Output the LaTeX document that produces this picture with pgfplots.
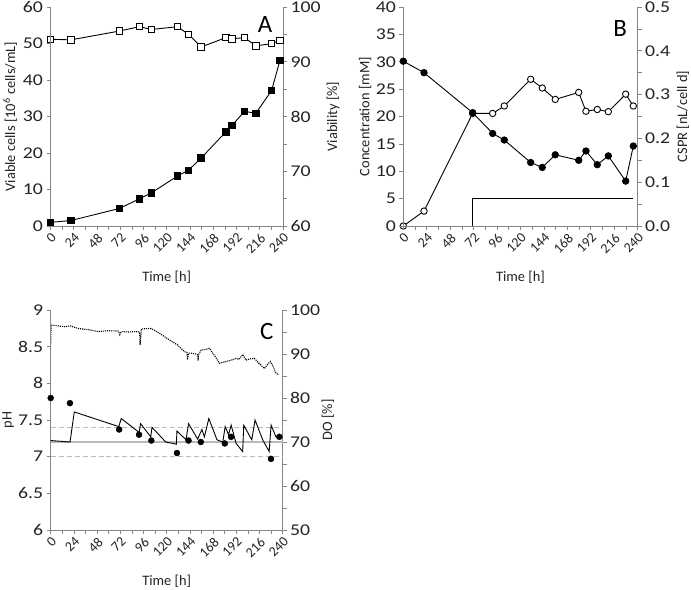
\documentclass[border=0pt]{standalone}
\usepackage{fontspec}
\setmainfont{Carlito}
\newfontfamily\widefont[FakeStretch=1.2]{Carlito}
\usepackage{pgfplots}
\pgfplotsset{compat=1.18}

\definecolor{axgray}{RGB}{134,134,134}
\definecolor{txt}{RGB}{35,35,35}
\definecolor{refgray}{RGB}{185,185,185}

\tikzset{letter/.style={font=\fontsize{25}{25}\selectfont, text=black}}
\newcommand{\labfont}{\fontsize{14.5}{16}\selectfont}

\pgfplotsset{
  panel/.style={
    scale only axis, xmin=0, xmax=240, clip=false,
    axis line style={draw=axgray, line width=0.9pt},
    tick style={draw=axgray, line width=0.7pt},
    major tick length=4bp, minor tick length=4bp,
    tick align=outside,
    /pgf/number format/assume math mode=true,
    yticklabel style={font=\widefont\fontsize{16.5}{17}\selectfont, text=txt},
    xticklabel style={font=\fontsize{14}{15}\selectfont, text=txt},
  },
  leftax/.style={panel,
    axis x line*=bottom, axis y line*=left,
    xtick={0,24,...,240}, minor x tick num=1,
    xticklabel style={rotate=45, anchor=north east, inner sep=1.5pt},
    xlabel={Time [h]},
    every axis x label/.style={at={(axis description cs:0.5,-0.233)}, anchor=center,
      font=\labfont, text=txt},
  },
  rightax/.style={panel,
    axis x line=none, axis y line*=right,
    minor y tick num=1,
  },
  ylab/.style={every axis y label/.style={at={(axis description cs:#1,0.5)},
    anchor=center, rotate=90, font=\labfont, text=txt}},
  dat/.style={black, line width=0.9pt, mark size=3.2bp,
    mark options={solid, line width=0.7pt}},
}

\begin{document}
\begin{tikzpicture}
\useasboundingbox (0,0) rectangle (691bp,590bp);

% ---------------- A ----------------
\begin{axis}[rightax, at={(50.5bp,364bp)}, anchor=south west,
  width=232.5bp, height=219bp,
  ymin=60, ymax=100, ytick={60,70,...,100},
  ylabel={Viability [\%]}, ylab=1.215,
]
\addplot[dat, mark=square*, mark options={fill=white}] coordinates {
  (0,94.1)(21.2,94.0)(71,95.6)(91.6,96.4)(104.3,95.9)(131.1,96.4)(142.5,95.0)
  (155.5,92.7)(181,94.4)(187.5,94.2)(200.3,94.4)(212,92.9)(228.2,93.3)(236.9,93.9)};
\end{axis}
\begin{axis}[leftax, at={(50.5bp,364bp)}, anchor=south west,
  width=232.5bp, height=219bp,
  ymin=0, ymax=60, ytick={0,10,...,60},
  ylabel={Viable cells [10\textsuperscript{6} cells/mL]}, ylab=-0.174,
]
\addplot[dat, mark=square*, mark options={fill=black}] coordinates {
  (0,1.0)(21.2,1.5)(71,4.8)(91.6,7.4)(104.3,9.1)(131.1,13.7)(142.5,15.3)
  (155.5,18.6)(181,25.8)(187.5,27.6)(200.3,31.4)(212,30.9)(228.2,37.1)(236.9,45.4)};
\node[letter] at (rel axis cs:0.923,0.918) {A};
\end{axis}

% ---------------- B ----------------
\begin{axis}[rightax, at={(403.3bp,364bp)}, anchor=south west,
  width=234.4bp, height=219bp,
  ymin=0, ymax=0.5, ytick={0,0.1,...,0.5},
  yticklabel style={/pgf/number format/.cd, fixed, fixed zerofill, precision=1},
  ylabel={CSPR [nL/cell d]}, ylab=1.193,
]
\addplot[dat, mark=*, mark options={fill=white}] coordinates {
  (0,0.0)(21.2,0.034)(71,0.257)(91.5,0.257)(103.4,0.274)(130.4,0.335)(142.3,0.315)
  (155.6,0.289)(179.6,0.305)(187,0.262)(198.6,0.266)(209.9,0.261)(227.7,0.301)(235.5,0.274)};
\end{axis}
\begin{axis}[leftax, at={(403.3bp,364bp)}, anchor=south west,
  width=234.4bp, height=219bp,
  ymin=0, ymax=40, ytick={0,5,...,40},
  ylabel={Concentration [mM]}, ylab=-0.163,
]
\addplot[black, line width=0.9pt] coordinates {(71,0)(71,5)(235.5,5)};
\addplot[dat, mark=*, mark options={fill=black}] coordinates {
  (0,30.1)(21.2,28.0)(71,20.7)(91.5,16.9)(103.4,15.7)(130.4,11.6)(142.3,10.7)
  (155.6,13.0)(179.6,12.0)(187,13.7)(198.6,11.2)(209.9,12.8)(227.7,8.2)(235.5,14.6)};
\node[letter] at (rel axis cs:0.925,0.904) {B};
\end{axis}

% ---------------- C ----------------
\begin{axis}[rightax, at={(50.7bp,60bp)}, anchor=south west,
  width=232bp, height=220bp,
  ymin=50, ymax=100, ytick={50,60,...,100},
  ylabel={DO [\%]}, ylab=1.195,
]
\addplot[black, densely dotted, line width=1.1pt] coordinates {
  (0,92.4)(0.4,96.6)(7,96.4)(14.7,96.2)(20,96.4)(28.5,95.8)(40,95.5)(49,95.1)
  (60,95.3)(70,95.2)(71.5,94.4)(73,95.1)(80,95.0)(87,95.1)(92,95.0)(92.5,92.0)
  (93.8,95.7)(104,95.8)(112.7,94.7)(121.3,93.4)(131.6,92.0)(138,90.6)(141,90.3)
  (141.5,88.7)(142.5,90.2)(145.4,90.2)(150,90.0)(152,89.8)(152.5,88.5)(153,89.9)
  (155.7,90.9)(160,91.0)(164,91.3)(169,89.8)(174.6,87.9)(180,88.2)(186.7,88.6)
  (191.8,89.0)(195,88.8)(198.6,89.9)(202,88.6)(206,88.9)(210.7,89.0)(215,88.0)
  (221,86.7)(225,87.8)(227.2,88.3)(230,87.2)(233,85.6)(236,85.3)};
\end{axis}
\begin{axis}[leftax, at={(50.7bp,60bp)}, anchor=south west,
  width=232bp, height=220bp,
  ymin=6, ymax=9, ytick={6,6.5,...,9},
  ylabel={pH}, ylab=-0.183,
]
\addplot[refgray, line width=1.2pt, dash pattern=on 5pt off 3pt] coordinates {(0,7.4)(240,7.4)};
\addplot[refgray, line width=1.2pt, dash pattern=on 5pt off 3pt] coordinates {(0,7.0)(240,7.0)};
\addplot[refgray, line width=1.4pt] coordinates {(0,7.2)(240,7.2)};
\addplot[black, line width=0.9pt] coordinates {
  (0,7.22)(10,7.21)(20,7.20)(24.4,7.61)(70.4,7.41)(73,7.52)(91.5,7.33)(93,7.45)
  (103.5,7.27)(104.8,7.40)(119,7.20)(126.5,7.18)(130,7.17)(130.6,7.35)(140,7.23)
  (142.6,7.45)(152,7.24)(156.4,7.37)(159,7.27)(163.6,7.52)(172,7.23)(178,7.20)
  (180.5,7.41)(184,7.30)(186.7,7.43)(191.8,7.18)(198.6,7.07)(199.7,7.43)(208,7.23)
  (211.4,7.50)(219.3,7.23)(226,7.07)(228,7.43)(233,7.27)(236,7.27)};
\addplot[only marks, mark=*, mark size=3bp, black] coordinates {
  (0,7.80)(19.9,7.73)(70.8,7.37)(91.4,7.30)(104.1,7.22)(130.6,7.05)(142.6,7.22)
  (155.3,7.20)(180.1,7.18)(186.6,7.27)(227.9,6.97)(236.5,7.27)};
\node[letter] at (rel axis cs:0.931,0.901) {C};
\end{axis}
\end{tikzpicture}
\end{document}
